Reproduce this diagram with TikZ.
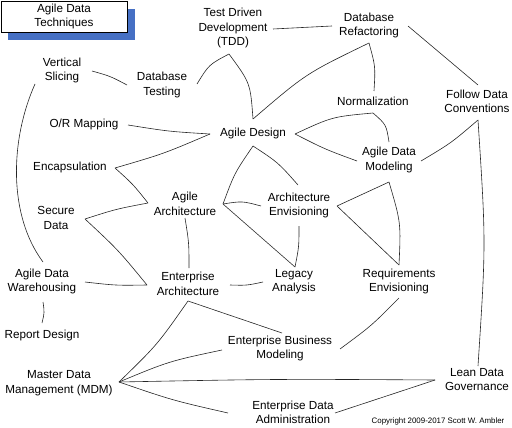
\documentclass[tikz,border=0pt]{standalone}
\usepackage{fontspec}
\setmainfont{Liberation Sans}
\usetikzlibrary{calc}
\definecolor{shadowblue}{RGB}{70,112,196}
\newcommand\cx[3]{\draw[conn] (#1) .. controls ($(#1)!0.5!(#2)!#3pt!90:(#2)$) .. (#2);}
\begin{document}
\begin{tikzpicture}[x=1pt,y=-1pt,
  lbl/.style={align=center,inner sep=0pt,font=\fontsize{11.7}{14.5}\selectfont},
  conn/.style={draw=black!85,line width=0.6pt},
  titlebox/.style={draw=black,line width=0.6pt,fill=white,inner sep=0pt,minimum width=126pt,minimum height=31pt,align=center,font=\fontsize{11.7}{14}\selectfont},
  small/.style={inner sep=0pt,font=\fontsize{7.9}{9}\selectfont}]
\useasboundingbox (0,0) rectangle (512,428);
% title
\fill[shadowblue] (8,9) rectangle (135,40);
\node[titlebox] (title) at (64,16.5) {Agile Data\\Techniques};
% nodes
\node[lbl] (tdd) at (233,28) {Test Driven\\Development\\(TDD)};
\node[lbl] (drf) at (369,25.5) {Database\\Refactoring};
\node[lbl] (vs) at (62,70.5) {Vertical\\Slicing};
\node[lbl] (dbt) at (162,85) {Database\\Testing};
\node[lbl] (fdc) at (477,101.5) {Follow Data\\Conventions};
\node[lbl] (nor) at (373,101) {Normalization};
\node[lbl] (orm) at (84,124) {O/R Mapping};
\node[lbl] (ad) at (253,133) {Agile Design};
\node[lbl] (adm) at (389,160) {Agile Data\\Modeling};
\node[lbl] (enc) at (70,167) {Encapsulation};
\node[lbl] (aa) at (185,204) {Agile\\Architecture};
\node[lbl] (ae) at (299,205.5) {Architecture\\Envisioning};
\node[lbl] (sd) at (56,218) {Secure\\Data};
\node[lbl] (adw) at (42,281.5) {Agile Data\\Warehousing};
\node[lbl] (ea) at (188,284) {Enterprise\\Architecture};
\node[lbl] (la) at (294,281.5) {Legacy\\Analysis};
\node[lbl] (re) at (399,281.5) {Requirements\\Envisioning};
\node[lbl] (rd) at (42,335) {Report Design};
\node[lbl] (ebm) at (280,348.5) {Enterprise Business\\Modeling};
\node[lbl] (mdm) at (59,383) {Master Data\\Management (MDM)};
\node[lbl] (ldg) at (477,379.5) {Lean Data\\Governance};
\node[lbl] (eda) at (293,412.5) {Enterprise Data\\Administration};
\node[small] (copy) at (438,421) {Copyright 2009-2017 Scott W. Ambler};
% junction points
\coordinate (tddR) at (273,29);
\coordinate (drfL) at (332,26);
\coordinate (tddB) at (229,54);
\coordinate (dbtR) at (197,84);
\coordinate (adT) at (253,119);
\coordinate (drfB) at (369,43);
\coordinate (norT) at (374,91);
\coordinate (drfR) at (408,26);
\coordinate (fdcT) at (478,85);
\coordinate (vsR) at (92,71);
\coordinate (dbtL) at (127,85);
\coordinate (vsB) at (35,84);
\coordinate (adwT) at (43,262);
\coordinate (ormR) at (128,125);
\coordinate (adL) at (210,134);
\coordinate (encR) at (115,168);
\coordinate (aaL) at (148,203);
\coordinate (sdR) at (85,219);
\coordinate (eaL) at (147,285);
\coordinate (adwR) at (85,282);
\coordinate (adwB) at (43,302);
\coordinate (rdT) at (42,323);
\coordinate (aaB) at (185,218);
\coordinate (eaT) at (189,268);
\coordinate (aaR) at (223,204);
\coordinate (adB) at (253,146);
\coordinate (aeT) at (298,185);
\coordinate (aeL) at (261,206);
\coordinate (laT) at (295,267);
\coordinate (aeB) at (299,226);
\coordinate (eaR) at (230,285);
\coordinate (laL) at (263,282);
\coordinate (aeR) at (337,206);
\coordinate (admB) at (389,182);
\coordinate (reT) at (399,265);
\coordinate (adR) at (295,134);
\coordinate (norB) at (373,113);
\coordinate (admT) at (389,142);
\coordinate (admL) at (357,161);
\coordinate (admR) at (421,161);
\coordinate (fdcB) at (478,120);
\coordinate (ldgT) at (478,366);
\coordinate (eaB) at (188,301);
\coordinate (mdmR) at (119,382);
\coordinate (ebmT) at (282,333);
\coordinate (ebmL) at (222,350);
\coordinate (ldgL) at (435,380);
\coordinate (edaL) at (228,413);
\coordinate (edaR) at (335,413);
\coordinate (reB) at (399,298);
\coordinate (ebmR) at (340,349);
% connectors
\cx{tddR}{drfL}{1}
\cx{tddB}{dbtR}{-6}
\cx{tddB}{adT}{10}
\cx{drfB}{adT}{-9}
\cx{drfB}{norT}{4}
\cx{drfR}{fdcT}{0}
\cx{vsR}{dbtL}{2}
\draw[conn] (vsB) .. controls (10,140) and (8,215) .. (adwT);
\cx{ormR}{adL}{-2}
\cx{encR}{adL}{-3}
\cx{encR}{aaL}{2}
\cx{sdR}{aaL}{2}
\cx{sdR}{eaL}{3}
\cx{adwR}{eaL}{-2}
\cx{adwB}{rdT}{2}
\cx{aaB}{eaT}{2}
\cx{aaR}{adB}{4}
\cx{adB}{aeT}{4}
\cx{aaR}{aeL}{4}
\cx{aaR}{laT}{0}
\cx{aeB}{laT}{2}
\cx{eaR}{laL}{-2}
\cx{aeR}{admB}{1}
\cx{aeR}{reT}{0}
\cx{admB}{reT}{7}
\cx{adR}{norB}{7}
\cx{norB}{admT}{6}
\cx{adR}{admL}{-2}
\cx{admR}{fdcB}{-3}
\cx{fdcB}{ldgT}{8}
\cx{eaB}{mdmR}{5}
\cx{eaB}{ebmT}{0}
\cx{mdmR}{ebmL}{5}
\cx{mdmR}{ldgL}{2}
\cx{mdmR}{edaL}{-3}
\cx{edaR}{ldgL}{-1}
\cx{reB}{ebmR}{3}
\end{tikzpicture}
\end{document}
